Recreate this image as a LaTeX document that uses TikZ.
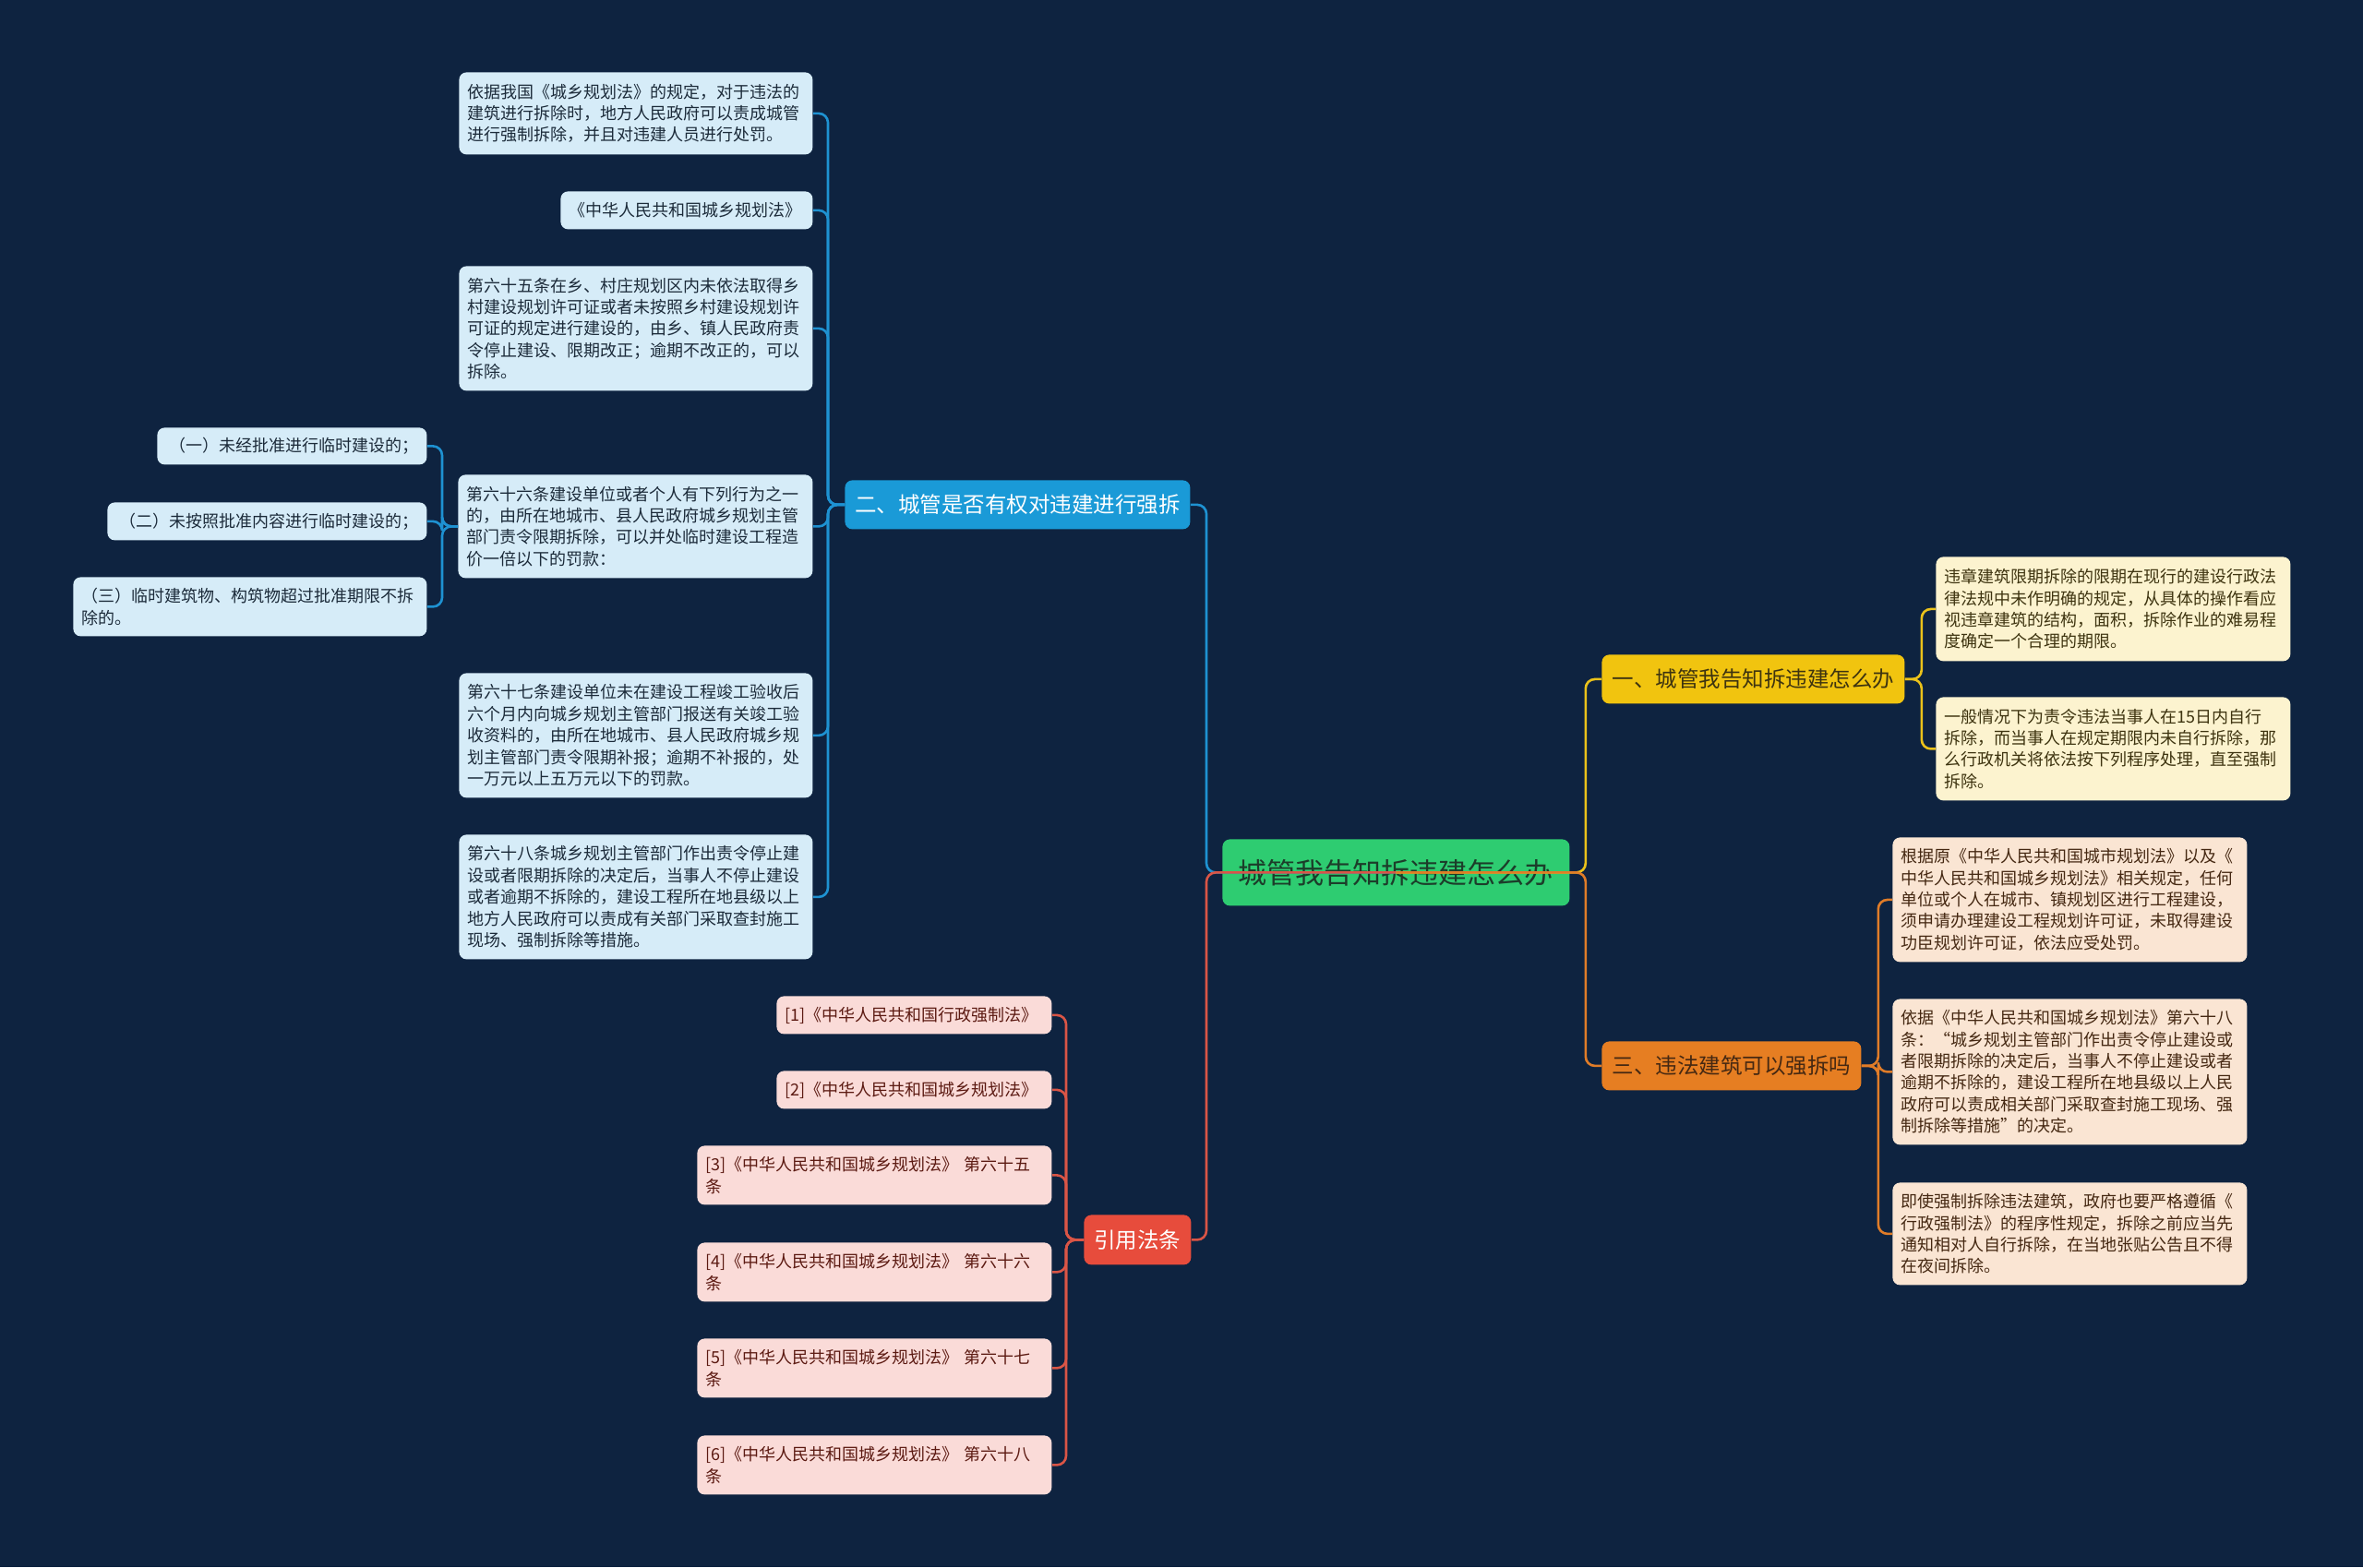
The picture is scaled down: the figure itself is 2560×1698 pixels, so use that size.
\documentclass[tikz,border=0pt]{standalone}
\usepackage{fontspec}
\setmainfont{Noto Sans CJK SC}
\definecolor{bg}{HTML}{0E2340}
\definecolor{bline}{HTML}{1E92D2}
\definecolor{bnode}{HTML}{1A9AD7}
\definecolor{bchild}{HTML}{D6ECF8}
\definecolor{btext}{HTML}{1C2B3A}
\definecolor{rline}{HTML}{DA5546}
\definecolor{rnode}{HTML}{E74C3C}
\definecolor{rchild}{HTML}{FADBD8}
\definecolor{rtext}{HTML}{5C1A12}
\definecolor{yline}{HTML}{EBC21A}
\definecolor{ynode}{HTML}{F1C40F}
\definecolor{ychild}{HTML}{FCF3CF}
\definecolor{ytext}{HTML}{3E3410}
\definecolor{oline}{HTML}{E07C28}
\definecolor{onode}{HTML}{E67E22}
\definecolor{ochild}{HTML}{FAE5D3}
\definecolor{otext}{HTML}{452812}
\definecolor{gnode}{HTML}{2ECC71}
\definecolor{gtext}{HTML}{1C3D2A}
\begin{document}
\begin{tikzpicture}[x=0.5pt,y=-0.5pt,
  leaf/.style={anchor=north west, rounded corners=4pt, inner xsep=4.5pt, inner ysep=2pt,
    align=left, font=\fontsize{9}{11.7}\selectfont},
  bleaf/.style={leaf, fill=bchild, text=btext},
  rleaf/.style={leaf, fill=rchild, text=rtext},
  yleaf/.style={leaf, fill=ychild, text=ytext},
  oleaf/.style={leaf, fill=ochild, text=otext},
  branch/.style={anchor=north west, rounded corners=4pt, inner sep=0pt, align=center,
    font=\fontsize{11.75}{14}\selectfont},
  conn/.style={line width=1.3pt, rounded corners=5pt}]
\fill[bg] (0,0) rectangle (2560,1698);
\useasboundingbox (0,0) rectangle (2560,1698);

% root
\node[branch, fill=gnode, text=gtext, minimum width=188pt, minimum height=36pt,
  font=\fontsize{15.5}{18}\selectfont] (root) at (1324,909) {城管我告知拆违建怎么办};

% branches
\node[branch, fill=bnode, text=white, minimum width=187pt, minimum height=26.5pt] (b) at (915,520) {二、城管是否有权对违建进行强拆};
\node[branch, fill=rnode, text=white, minimum width=58pt, minimum height=27pt] (r) at (1174,1316) {引用法条};
\node[branch, fill=ynode, text=ytext, minimum width=164pt, minimum height=26.5pt] (y) at (1735,709) {一、城管我告知拆违建怎么办};
\node[branch, fill=onode, text=otext, minimum width=140.5pt, minimum height=26.5pt] (o) at (1735,1128) {三、违法建筑可以强拆吗};

% blue children
\node[bleaf, text width=182.5pt, minimum height=44.5pt] (b1) at (497,78) {依据我国《城乡规划法》的规定，对于违法的\\建筑进行拆除时，地方人民政府可以责成城管\\进行强制拆除，并且对违建人员进行处罚。};
\node[bleaf, text width=127.5pt, minimum height=20.5pt] (b2) at (607,207) {《中华人民共和国城乡规划法》};
\node[bleaf, text width=182.5pt, minimum height=67.5pt] (b3) at (497,288) {第六十五条在乡、村庄规划区内未依法取得乡\\村建设规划许可证或者未按照乡村建设规划许\\可证的规定进行建设的，由乡、镇人民政府责\\令停止建设、限期改正；逾期不改正的，可以\\拆除。};
\node[bleaf, text width=183pt, minimum height=56pt] (b4) at (496,514) {第六十六条建设单位或者个人有下列行为之一\\的，由所在地城市、县人民政府城乡规划主管\\部门责令限期拆除，可以并处临时建设工程造\\价一倍以下的罚款：};
\node[bleaf, text width=182.5pt, minimum height=67.5pt] (b5) at (497,729) {第六十七条建设单位未在建设工程竣工验收后\\六个月内向城乡规划主管部门报送有关竣工验\\收资料的，由所在地城市、县人民政府城乡规\\划主管部门责令限期补报；逾期不补报的，处\\一万元以上五万元以下的罚款。};
\node[bleaf, text width=182.5pt, minimum height=67.5pt] (b6) at (497,904) {第六十八条城乡规划主管部门作出责令停止建\\设或者限期拆除的决定后，当事人不停止建设\\或者逾期不拆除的，建设工程所在地县级以上\\地方人民政府可以责成有关部门采取查封施工\\现场、强制拆除等措施。};

\node[bleaf, text width=137pt, minimum height=20pt, align=right] (b41) at (170,463) {（一）未经批准进行临时建设的；};
\node[bleaf, text width=164pt, minimum height=20.5pt, align=right] (b42) at (116,544) {（二）未按照批准内容进行临时建设的；};
\node[bleaf, text width=182.5pt, minimum height=32pt] (b43) at (79,625) {（三）临时建筑物、构筑物超过批准期限不拆\\除的。};

% red children
\node[rleaf, text width=140pt, minimum height=20.5pt] (r1) at (841,1079) {[1]《中华人民共和国行政强制法》};
\node[rleaf, text width=140pt, minimum height=20.5pt] (r2) at (841,1160) {[2]《中华人民共和国城乡规划法》};
\node[rleaf, text width=183pt, minimum height=32pt] (r3) at (755,1241) {[3]《中华人民共和国城乡规划法》 第六十五\\条};
\node[rleaf, text width=183pt, minimum height=32pt] (r4) at (755,1346) {[4]《中华人民共和国城乡规划法》 第六十六\\条};
\node[rleaf, text width=183pt, minimum height=32pt] (r5) at (755,1450) {[5]《中华人民共和国城乡规划法》 第六十七\\条};
\node[rleaf, text width=183pt, minimum height=32pt] (r6) at (755,1555) {[6]《中华人民共和国城乡规划法》 第六十八\\条};

% yellow children
\node[yleaf, text width=183pt, minimum height=56.5pt] (y1) at (2097,603) {违章建筑限期拆除的限期在现行的建设行政法\\律法规中未作明确的规定，从具体的操作看应\\视违章建筑的结构，面积，拆除作业的难易程\\度确定一个合理的期限。};
\node[yleaf, text width=183pt, minimum height=56pt] (y2) at (2097,755) {一般情况下为责令违法当事人在15日内自行\\拆除，而当事人在规定期限内未自行拆除，那\\么行政机关将依法按下列程序处理，直至强制\\拆除。};

% orange children
\node[oleaf, text width=183pt, minimum height=67.5pt] (o1) at (2050,907) {根据原《中华人民共和国城市规划法》以及《\\中华人民共和国城乡规划法》相关规定，任何\\单位或个人在城市、镇规划区进行工程建设，\\须申请办理建设工程规划许可证，未取得建设\\功臣规划许可证，依法应受处罚。};
\node[oleaf, text width=183pt, minimum height=79pt] (o2) at (2050,1082) {依据《中华人民共和国城乡规划法》第六十八\\条：“城乡规划主管部门作出责令停止建设或\\者限期拆除的决定后，当事人不停止建设或者\\逾期不拆除的，建设工程所在地县级以上人民\\政府可以责成相关部门采取查封施工现场、强\\制拆除等措施”的决定。};
\node[oleaf, text width=183pt, minimum height=55.5pt] (o3) at (2050,1281) {即使强制拆除违法建筑，政府也要严格遵循《\\行政强制法》的程序性规定，拆除之前应当先\\通知相对人自行拆除，在当地张贴公告且不得\\在夜间拆除。};

% connectors: root to branches
\draw[conn, bline] (root.center) -- ([xshift=-8.5pt]root.west) |- (b.east);
\draw[conn, yline] (root.center) -- ([xshift=8.5pt]root.east) |- (y.west);
\draw[conn, oline] (root.center) -- ([xshift=8.5pt]root.east) |- (o.west);
\draw[conn, rline] (root.center) -- ([xshift=-8.5pt]root.west) |- (r.east);

% blue
\foreach \c in {b1,b2,b3,b4,b5,b6}
  \draw[conn, bline] (b.west) -- ++(-18,0) |- (\c.east);
\foreach \c in {b41,b42,b43}
  \draw[conn, bline] (b4.west) -- ++(-17,0) |- (\c.east);
% red
\foreach \c in {r1,r2,r3,r4,r5,r6}
  \draw[conn, rline] (r.west) -- ++(-19,0) |- (\c.east);
% yellow
\foreach \c in {y1,y2}
  \draw[conn, yline] (y.east) -- ++(18,0) |- (\c.west);
% orange
\foreach \c in {o1,o2,o3}
  \draw[conn, oline] (o.east) -- ++(18,0) |- (\c.west);
\end{tikzpicture}
\end{document}
